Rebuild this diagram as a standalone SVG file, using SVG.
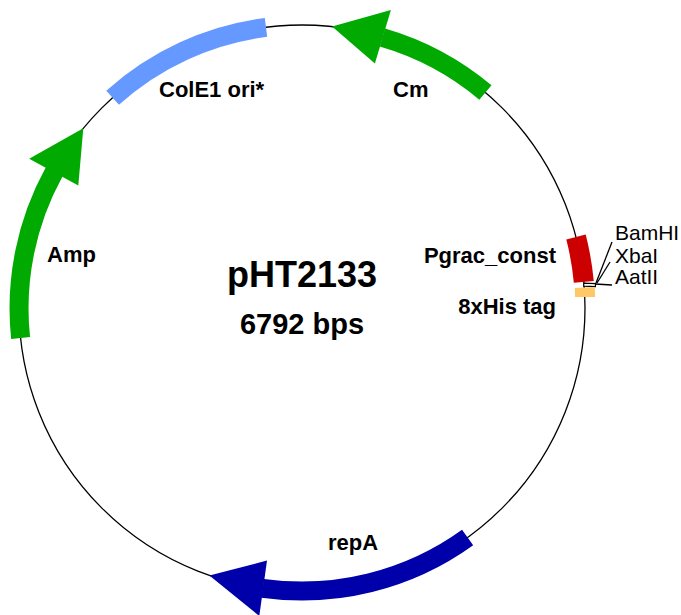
<svg xmlns="http://www.w3.org/2000/svg" width="681" height="615" viewBox="0 0 681 615">
<style>
.lbl{font-family:"Liberation Sans",Arial,sans-serif;font-weight:bold;font-size:22px;fill:#000}
.site{font-family:"Liberation Sans",Arial,sans-serif;font-size:21px;fill:#000}
.bar{fill:none;stroke-width:19;stroke-linecap:butt}
.ln{stroke:#000;stroke-width:1.3;fill:none}
</style>
<rect width="681" height="615" fill="#fff"/>
<g id="backbone">
<circle cx="302" cy="308" r="283" fill="none" stroke="#000" stroke-width="1.3"/>
</g>
<g id="ColE1_ori">
<path class="bar" stroke="#6699FF" d="M112.6,97.7 A283,283 0 0 1 266.0,27.3"/>
<text class="lbl" x="159" y="97">ColE1 ori*</text>
</g>
<g id="Cm">
<path class="bar" stroke="#00AA00" d="M485.4,92.5 A283,283 0 0 0 382.4,37.5"/>
<polygon fill="#00AA00" points="390.9,10.0 332.1,26.6 374.9,63.6"/>
<text class="lbl" x="393" y="97">Cm</text>
</g>
<g id="Amp">
<path class="bar" stroke="#00AA00" d="M20.6,338.1 A283,283 0 0 1 54.3,171.6"/>
<polygon fill="#00AA00" points="29.2,158.7 83.3,128.3 78.3,185.5"/>
<text class="lbl" x="47" y="262">Amp</text>
</g>
<g id="repA">
<path class="bar" stroke="#0000AA" d="M467.6,537.5 A283,283 0 0 1 262.6,588.3"/>
<polygon fill="#0000AA" points="267.0,560.6 209.4,575.4 259.3,616.0"/>
<text class="lbl" x="328" y="550">repA</text>
</g>
<g id="Pgrac_const">
<path class="bar" stroke="#CC0000" style="stroke-width:20" d="M576.0,237.1 A283,283 0 0 1 583.8,281.9"/>
<text class="lbl" x="556" y="263" text-anchor="end">Pgrac_const</text>
</g>
<g id="sites">
<path d="M583.8,283.2 L595.5,283.6 L595.4,286.6 L583.7,286.2 Z" fill="#fff" stroke="#000" stroke-width="1.2"/>
</g>
<g id="His_tag">
<path class="bar" stroke="#FFC866" style="stroke-width:20" d="M584.8,287.5 A283,283 0 0 1 585.0,297.0"/>
<text class="lbl" x="556" y="314" text-anchor="end">8xHis tag</text>
</g>
<g id="connectors">
<path class="ln" d="M612,242 L596,283"/>
<path class="ln" d="M610,262 L597,283"/>
<path class="ln" d="M612,285 L595,284"/>
</g>
<g id="BamHI"><text class="site" x="615" y="240">BamHI</text></g>
<g id="XbaI"><text class="site" x="615" y="263">XbaI</text></g>
<g id="AatII"><text class="site" x="615" y="284">AatII</text></g>
<g id="title">
<text class="lbl" x="302" y="287" text-anchor="middle" style="font-size:36px">pHT2133</text>
<text class="lbl" x="302" y="334" text-anchor="middle" style="font-size:29px">6792 bps</text>
</g>
</svg>
